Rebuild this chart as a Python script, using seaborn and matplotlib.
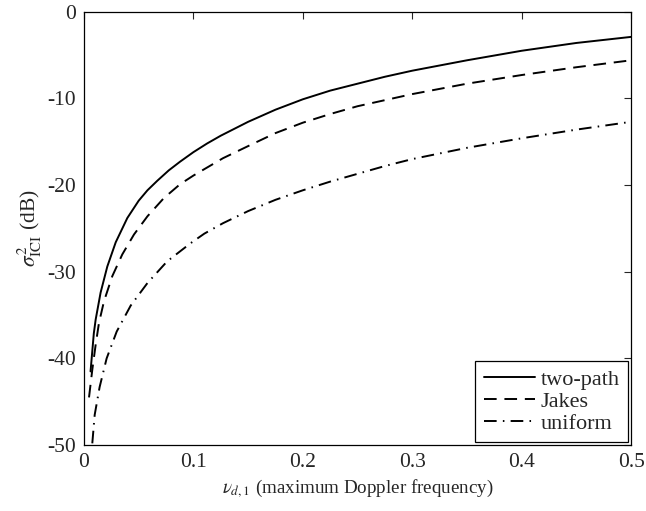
import pandas as pd
import matplotlib.pyplot as plt
import seaborn as sns

# values
two_path_x = [0.006, 0.009, 0.0107, 0.0152, 0.0213, 0.029, 0.0396, 0.05, 0.058, 0.067, 0.0775, 0.0878,
              0.1, 0.1125, 0.125, 0.15, 0.175, 0.2, 0.225, 0.25, 0.275, 0.3, 0.35, 0.4, 0.45, 0.5]
two_path_y = [-41.5, -37.1, -35.5, -32.4, -29.4, -26.6, -23.8, -21.8, -20.6, -19.5, -18.3, -17.3,
              -16.2, -15.2, -14.3, -12.7, -11.3, -10.1, -9.1, -8.3, -7.5, -6.8, -5.6, -4.5, -3.6, -2.9]

jakes_x = [0.0046, 0.0076, 0.0107, 0.0137, 0.0183, 0.0259, 0.035, 0.0457, 0.058, 0.073,
           0.0878, 0.1, 0.127, 0.15, 0.175, 0.2, 0.225, 0.25, 0.275, 0.3, 0.35, 0.4, 0.45, 0.5]
jakes_y = [-44.5, -41.3, -38.4, -35.9, -33.4, -30.5, -28.0, -25.7, -23.6, -21.5,
           -19.9, -18.9, -16.9, -15.5, -14.0, -12.8, -11.8, -10.9, -10.2, -9.5, -8.3, -7.3, -6.4, -5.6]

uniform_x = [0.0076, 0.0098, 0.0143, 0.0207, 0.0299, 0.0427, 0.058, 0.076, 0.0975, 0.11, 0.127,
             0.15, 0.175, 0.2, 0.225, 0.25, 0.275, 0.3, 0.35, 0.4, 0.45, 0.5]
uniform_y = [-49.8, -46.5, -43.3, -40.0, -36.9, -33.9, -31.3, -28.8, -26.7, -25.6, -24.4,
             -23.0, -21.7, -20.6, -19.6, -18.7, -17.8, -17.0, -15.7, -14.6, -13.6, -12.7]

series_names = ['two-path', 'Jakes', 'uniform']

rows = []
for name, xs, ys in zip(series_names,
                        [two_path_x, jakes_x, uniform_x],
                        [two_path_y, jakes_y, uniform_y]):
    for x, y in zip(xs, ys):
        rows.append({'nu': x, 'sigma': y, 'modelo': name})
df = pd.DataFrame(rows)

sns.set_style("white")
plt.rcParams['font.family'] = ['Liberation Serif', 'DejaVu Serif']
plt.rcParams['mathtext.fontset'] = 'stix'
plt.rcParams['axes.unicode_minus'] = False
plt.rcParams['font.size'] = 15

fig = plt.figure(figsize=(6.46, 5.11), dpi=100)
ax = fig.add_axes([0.130, 0.129, 0.847, 0.848])

sns.lineplot(
    data=df, x='nu', y='sigma', hue='modelo', style='modelo',
    palette={n: 'black' for n in series_names},
    dashes={'two-path': '', 'Jakes': (6.5, 4), 'uniform': (6.5, 3.2, 0.8, 3.2)},
    sort=False, linewidth=1.4, ax=ax,
)

ax.set_xlim(0, 0.5)
ax.set_ylim(-50, 0)
ax.set_xticks([0, 0.1, 0.2, 0.3, 0.4, 0.5])
ax.set_xticklabels(['0', '0.1', '0.2', '0.3', '0.4', '0.5'])
ax.set_yticks([-50, -40, -30, -20, -10, 0])
ax.tick_params(direction='in', length=5, width=0.8, top=True, right=True,
               labelsize=15.5, pad=6)
for s in ax.spines.values():
    s.set_visible(True)
    s.set_color('black')
    s.set_linewidth(0.9)

ax.set_xlabel(r'$\nu_{d,1}$ (maximum Doppler frequency)', fontsize=13.7)
ax.set_ylabel(r'$\sigma^2_{\mathrm{ICI}}$ (dB)', fontsize=15.5, labelpad=2)

handles, labels = ax.get_legend_handles_labels()
leg = ax.legend(handles, labels, loc='lower right', fontsize=16, frameon=True,
                fancybox=False, edgecolor='black', handlelength=2.3,
                borderaxespad=0.12, borderpad=0.4, labelspacing=0.05,
                handletextpad=0.25)
leg.get_frame().set_linewidth(0.9)
leg.get_frame().set_alpha(1)

plt.savefig('out.png', dpi=100)
plt.close()
